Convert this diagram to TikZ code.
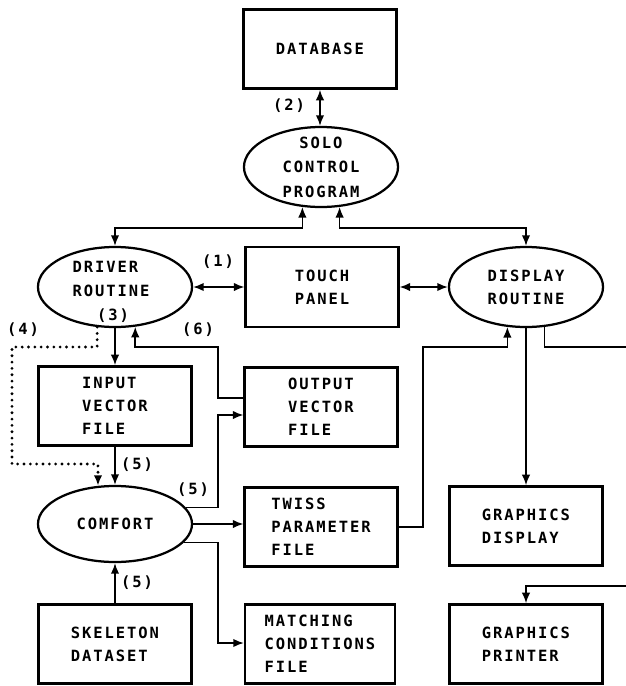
\documentclass[tikz,border=0pt]{standalone}
\usepackage{fontspec}
\newfontfamily\plotfont{DejaVu Sans Mono}[LetterSpace=12.5]
\usetikzlibrary{arrows.meta}
\usetikzlibrary{shapes.geometric}

\begin{document}
\begin{tikzpicture}[x=0.025cm, y=-0.025cm,
    font=\plotfont\bfseries\fontsize{11}{16.5}\selectfont,
    >={Latex[length=7.5pt,width=6pt]},
    box/.style={draw, rectangle, line width=1.6pt, minimum width=3.82cm, minimum height=1.98cm, align=left},
    oval/.style={draw, ellipse, line width=1.6pt, minimum width=3.85cm, minimum height=2cm, inner sep=0pt, align=left},
    lbl/.style={inner sep=1pt},
    conn/.style={line width=1.2pt},
    dots/.style={line width=2.2pt, line cap=round, dash pattern=on 0pt off 4.5pt}]
			\useasboundingbox (0,0) rectangle (626,686);
			% blocks
			\node[box] (db) at (320,49) {DATABASE};
			\node[oval, align=center, inner ysep=-5pt, font=\plotfont\bfseries\fontsize{11}{17.5}\selectfont] (solo) at (321,167) {SOLO\\CONTROL\\PROGRAM};
			\node[oval] (driver) at (115,287) {};
			\node[align=left] (drvtxt) at (111,279) {DRIVER\\ROUTINE};
			\node[box, minimum height=2cm] (touch) at (322,287) {TOUCH\\PANEL};
			\node[oval] (display) at (526,287) {DISPLAY\\ROUTINE};
			\node[box] (input) at (115,406) {INPUT\\VECTOR\\FILE};
			\node[box] (output) at (321,407) {OUTPUT\\VECTOR\\FILE};
			\node[oval, minimum height=1.9cm] (comfort) at (115,524) {COMFORT};
			\node[box] (twiss) at (321,527) {TWISS\\PARAMETER\\FILE};
			\node[box] (gdisp) at (526,526) {GRAPHICS\\DISPLAY};
			\node[box] (skel) at (115,644) {SKELETON\\DATASET};
			\node[box, minimum width=3.75cm] (match) at (320,644) {MATCHING\\CONDITIONS\\FILE};
			\node[box] (printer) at (526,644) {GRAPHICS\\PRINTER};
			% labels
			\node[lbl] (l2) at (289,106) {(2)};
			\node[lbl] (l1) at (218,262) {(1)};
			\node[lbl] (l3) at (113,316) {(3)};
			\node[lbl] (l4) at (23,330) {(4)};
			\node[lbl] (l6) at (198,330) {(6)};
			\node[lbl] (l5a) at (137,465) {(5)};
			\node[lbl] (l5b) at (193,490) {(5)};
			\node[lbl] (l5c) at (137,583) {(5)};
			% bends
			\coordinate (busL) at (115,228);
			\coordinate (busR) at (526,228);
			\coordinate (dotA) at (12,347);
			\coordinate (dotB) at (12,464);
			\coordinate (sixA) at (218,398);
			\coordinate (sixB) at (218,347);
			\coordinate (fiveA) at (218,415);
			\coordinate (matchA) at (218,643);
			\coordinate (twA) at (423,347);
			\coordinate (outR) at (626,347);
			\coordinate (inP) at (626,586);
			% connectors
			\draw[conn,<->] (db.south) -- (db.south |- solo.north);
			\draw[conn,<->] (solo.245) |- (busL) -- (driver.north);
			\draw[conn,<->] (solo.295) |- (busR) -- (display.north);
			\draw[conn,<->] (driver.east) -- (touch.west);
			\draw[conn,<->] (touch.east) -- (display.west);
			\draw[conn,->] (driver.south) -- (input.north);
			\draw[dots,->] (driver.246) |- (dotA) -- (dotB) -| (comfort.114);
			\draw[conn,->] (sixA -| output.west) -- (sixA) -- (sixB) -| (driver.297);
			\draw[conn,->] (input.south) -- (comfort.north);
			\draw[conn,->] (comfort.13) -| (fiveA) -- (fiveA -| output.west);
			\draw[conn,->] (comfort.east) -- (comfort.east -| twiss.west);
			\draw[conn,->] (comfort.345) -| (matchA) -- (matchA -| match.west);
			\draw[conn,->] (skel.north) -- (comfort.south);
			\draw[conn,->] (twiss.east) -| (twA) -| (display.245);
			\draw[conn,->] (display.south) -- (gdisp.north);
			\draw[conn] (display.295) |- (outR);
			\draw[conn,->] (inP) -| (printer.north);
		\end{tikzpicture}
\end{document}
